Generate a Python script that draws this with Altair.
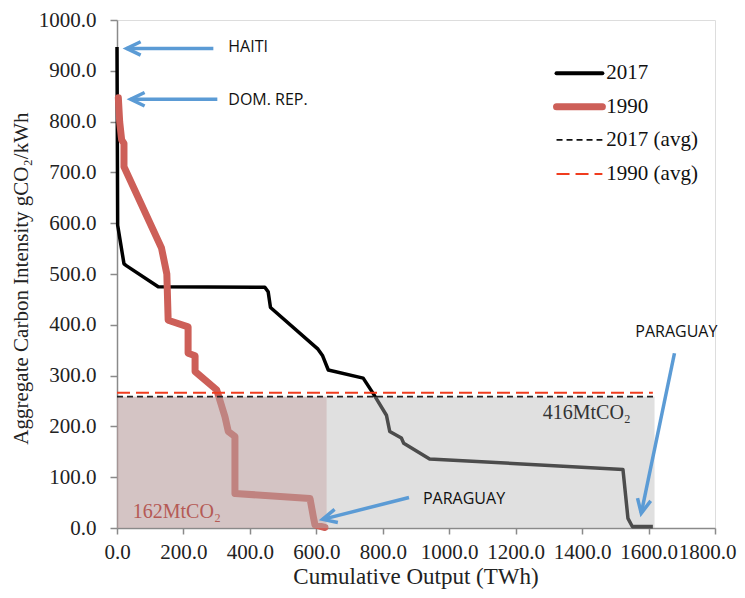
import altair as alt
import pandas as pd
import numpy as np

# ---------------- data ----------------
x2017 = [0, 2, 21, 29, 124, 445, 455, 462, 605, 619, 636, 741, 771, 811, 821, 856, 863, 941, 1523, 1538, 1551, 1613]
y2017 = [947, 596, 520, 516, 475, 474, 465, 434, 352, 339, 311, 295, 265, 222, 190, 177, 167, 136, 115, 19, 3, 3]

x1990 = [4, 8, 14, 21, 21, 134, 150, 154, 214, 214, 235, 235, 300, 325, 335, 355, 355, 581, 591, 596, 626]
y1990 = [847, 800, 764, 757, 711, 551, 500, 409, 396, 344, 339, 308, 272, 219, 190, 180, 68, 58, 22, 6, 1]

avg2017 = 258.5
avg1990 = 266.0
end2017 = 1618
end1990 = 1613
box1990_end = 631

area_labels = ["416MtCO\u2082", "162MtCO\u2082"]
area_label_x = [1414, 180]
area_label_y = [214, 19]

ann_text = ["HAITI", "DOM. REP.", "PARAGUAY", "PARAGUAY"]
ann_x = [335, 335, 921, 1560]
ann_y = [946, 843, 57, 386]

arrow_tail_x = [290, 302, 879, 1678]
arrow_tail_y = [944, 844, 60, 344]
arrow_tip_x = [29, 41, 619, 1578]
arrow_tip_y = [944, 844, 17, 29]

legend_labels = ["2017", "1990", "2017 (avg)", "1990 (avg)"]
legend_y = [895, 829, 764, 697]
legend_x0, legend_x1, legend_tx = 1323, 1461, 1473

x_title = "Cumulative Output (TWh)"
y_title = "Aggregate Carbon Intensity gCO\u2082/kWh"
x_title_pos = (900, -111)     # data units (below the axis)
y_title_pos = (-268, 491)     # data units (left of the axis)

x_ticks = list(range(0, 1801, 200))
y_ticks = list(range(0, 1001, 100))

# ---------------- layout ----------------
W, H = 598, 508
XMAX, YMAX = 1800, 1000
SERIF = "Liberation Serif"
AXC = "#8a8a8a"

xscale = alt.Scale(domain=[0, XMAX], nice=False, zero=False)
yscale = alt.Scale(domain=[0, YMAX], nice=False, zero=False)
xaxis = alt.Axis(values=x_ticks, format=".1f", grid=False, title=None,
                 labelFont=SERIF, labelFontSize=21, labelColor="#222", labelPadding=7,
                 labelOverlap=False, labelFlush=False,
                 labelOffset={"condition": {"test": "datum.value === 1800", "value": -8}, "value": 0},
                 tickSize=6, tickColor=AXC, domainColor=AXC, tickWidth=1.5, domainWidth=1.5)
yaxis = alt.Axis(values=y_ticks, format=".1f", grid=False, title=None,
                 labelFont=SERIF, labelFontSize=21, labelColor="#222", labelPadding=14,
                 labelOverlap=False, labelFlush=False,
                 tickSize=7, tickColor=AXC, domainColor=AXC, tickWidth=1.5, domainWidth=1.5)


def X(f):
    return alt.X(f, type="quantitative", scale=xscale, axis=xaxis)


def Y(f):
    return alt.Y(f, type="quantitative", scale=yscale, axis=yaxis)


df17 = pd.DataFrame({"x": x2017, "y": y2017, "i": range(len(x2017))})
df90 = pd.DataFrame({"x": x1990, "y": y1990, "i": range(len(x1990))})

line17 = alt.Chart(df17).mark_line(color="#000000", strokeWidth=3.5, strokeJoin="round").encode(
    x=X("x"), y=Y("y"), order="i:Q")
line90 = alt.Chart(df90).mark_line(color="#cd5f58", strokeWidth=7, strokeJoin="round", strokeCap="round").encode(
    x=X("x"), y=Y("y"), order="i:Q")

box_gray = alt.Chart(pd.DataFrame({"x": [0], "x2": [end2017], "y": [0], "y2": [avg2017]})).mark_rect(
    color="#b4b4b4", opacity=0.42).encode(x=X("x"), x2="x2", y=Y("y"), y2="y2")
box_red = alt.Chart(pd.DataFrame({"x": [0], "x2": [box1990_end], "y": [0], "y2": [avg2017]})).mark_rect(
    color="#b88383", opacity=0.30).encode(x=X("x"), x2="x2", y=Y("y"), y2="y2")

avg17 = alt.Chart(pd.DataFrame({"x": [0], "x2": [end2017], "y": [avg2017]})).mark_rule(
    color="#222222", strokeWidth=1.7, strokeDash=[6, 4]).encode(x=X("x"), x2="x2", y=Y("y"))
avg90 = alt.Chart(pd.DataFrame({"x": [0], "x2": [end1990], "y": [avg1990]})).mark_rule(
    color="#f03c1e", strokeWidth=2, strokeDash=[13, 6]).encode(x=X("x"), x2="x2", y=Y("y"))

area_df = pd.DataFrame({"t": area_labels, "x": area_label_x, "y": area_label_y,
                        "c": ["#333333", "#b55a55"]})
area_txt = alt.Chart(area_df).mark_text(font=SERIF, fontSize=20, align="center", baseline="alphabetic").encode(
    x=X("x"), y=Y("y"), text="t:N", color=alt.Color("c:N", scale=None))

ann_df = pd.DataFrame({"t": ann_text, "x": ann_x, "y": ann_y})
ann_txt = alt.Chart(ann_df).mark_text(font="Open Sans", fontSize=16, align="left", baseline="middle",
                                      color="#111111").encode(x=X("x"), y=Y("y"), text="t:N")

# axis titles as serif text
xt = alt.Chart(pd.DataFrame({"t": [x_title], "x": [x_title_pos[0]], "y": [x_title_pos[1]]})).mark_text(
    font=SERIF, fontSize=23, align="center", baseline="alphabetic", color="#222222").encode(
    x=X("x"), y=Y("y"), text="t:N")
yt = alt.Chart(pd.DataFrame({"t": [y_title], "x": [y_title_pos[0]], "y": [y_title_pos[1]]})).mark_text(
    font=SERIF, fontSize=21, align="center", baseline="alphabetic", angle=270, color="#222222").encode(
    x=X("x"), y=Y("y"), text="t:N")

# arrow direction in screen space (for the heads)
pxu = W / XMAX
pyu = H / YMAX
dxs = (np.array(arrow_tip_x) - np.array(arrow_tail_x)) * pxu
dys = -(np.array(arrow_tip_y) - np.array(arrow_tail_y)) * pyu
ang = (np.degrees(np.arctan2(dys, dxs)) + 360) % 360
arr_df = pd.DataFrame({"x": arrow_tail_x, "y": arrow_tail_y, "x2": arrow_tip_x, "y2": arrow_tip_y,
                       "ang": ang})
ARROW = "#5b9bd5"
arr_shaft = alt.Chart(arr_df).mark_rule(color=ARROW, strokeWidth=3.5).encode(
    x=X("x"), y=Y("y"), x2="x2", y2="y2")
arr_head = alt.Chart(arr_df).mark_point(shape="M-1,-0.48L0,0L-1,0.48", filled=False, size=784,
                                        strokeWidth=3.5, color=ARROW, opacity=1,
                                        strokeJoin="miter").encode(
    x=X("x2"), y=Y("y2"), angle=alt.Angle("ang:Q", scale=None))

# legend (manual, in data coordinates)
leg = []
styles = [
    dict(color="#000000", strokeWidth=4, strokeCap="round"),
    dict(color="#cd5f58", strokeWidth=7, strokeCap="round"),
    dict(color="#111111", strokeWidth=1.7, strokeDash=[6, 4]),
    dict(color="#f03c1e", strokeWidth=2, strokeDash=[13, 6]),
]
for lab, ly, st in zip(legend_labels, legend_y, styles):
    d = pd.DataFrame({"x": [legend_x0], "x2": [legend_x1], "y": [ly]})
    leg.append(alt.Chart(d).mark_rule(**st).encode(x=X("x"), x2="x2", y=Y("y")))
leg_df = pd.DataFrame({"t": legend_labels, "x": [legend_tx] * 4, "y": legend_y})
leg.append(alt.Chart(leg_df).mark_text(font=SERIF, fontSize=21, align="left", baseline="middle",
                                       color="#111111").encode(x=X("x"), y=Y("y"), text="t:N"))

chart = alt.layer(line17, line90, box_gray, box_red, avg17, avg90, area_txt, ann_txt,
                  arr_shaft, arr_head, xt, yt, *leg).properties(
    width=W, height=H,
    autosize=alt.AutoSizeParams(type="none"),
    padding={"left": 109, "top": 12, "right": 22, "bottom": 62},
).configure_view(stroke=None).configure_axis(labelFont=SERIF).configure(background="white")

chart.save("out.html", embed_options={"renderer": "svg", "actions": False})
